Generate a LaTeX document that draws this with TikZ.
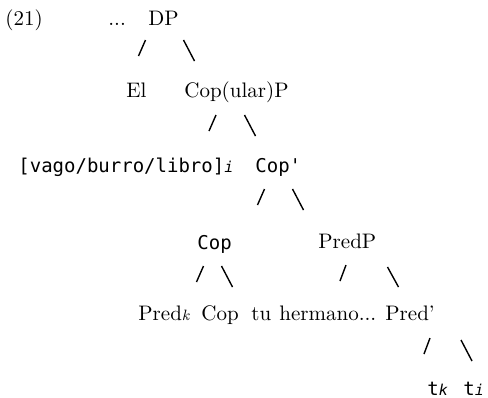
\documentclass[tikz,border=0pt]{standalone}
\usepackage{fontspec}
\setmonofont{DejaVu Sans Mono}
\tikzset{
  lab/.style={inner sep=0pt, anchor=base west, font=\fontsize{10.5}{12.5}\selectfont},
  mono/.style={inner sep=0pt, anchor=base west, font=\fontsize{9.5}{11}\selectfont\ttfamily},
  branch/.style={line width=0.7pt}
}
\newcommand{\ssub}[1]{{\fontsize{7.5}{8}\selectfont\itshape #1}}

\begin{document}
\begin{tikzpicture}[x=0.5pt, y=-0.5pt]
\useasboundingbox (0,0) rectangle (488,397);
% DP
\node[lab] (num) at (5,25) {(21)};
\node[lab] (dots) at (108,25) {...};
\node[lab] (dp) at (148,25) {DP};
\draw[branch] ([shift={(-2.5,15)}]dp.base west) -- ++(-7,16);
\draw[branch] ([shift={(35.5,15)}]dp.base west) -- ++(11,21);
% El, CopP
\node[lab] (el) at (126,97) {El};
\node[lab] (copp) at (184,97) {Cop(ular)P};
\draw[branch] ([shift={(32,18)}]copp.base west) -- ++(-7,16);
\draw[branch] ([shift={(60.5,18)}]copp.base west) -- ++(11,21);
% spec, Cop'
\node[mono] (spec) at (18,172) {[vago/burro/libro]\ssub{i}};
\node[mono] (copbar) at (255,172) {Cop'};
\draw[branch] ([shift={(9.5,17)}]copbar.base west) -- ++(-7,16);
\draw[branch] ([shift={(37.5,17)}]copbar.base west) -- ++(11,21);
% Cop, PredP
\node[mono] (cop) at (197,249) {Cop};
\node[lab] (predp) at (318,248) {PredP};
\draw[branch] ([shift={(28,17)}]predp.base west) -- ++(-6,16);
\draw[branch] ([shift={(69.5,19)}]predp.base west) -- ++(11,20);
\draw[branch] ([shift={(6.5,17)}]cop.base west) -- ++(-7,16);
\draw[branch] ([shift={(24.5,17)}]cop.base west) -- ++(11,21);
% bottom row
\node[lab] (predk) at (138,320) {Pred\ssub{k}};
\node[lab] (copl) at (201,320) {Cop};
\node[lab] (tu) at (251,320) {tu};
\node[lab] (herm) at (279,320) {hermano...};
\node[lab] (predbar) at (385,320) {Pred'};
\draw[branch] ([shift={(45,18)}]predbar.base west) -- ++(-6,16);
\draw[branch] ([shift={(76,20)}]predbar.base west) -- ++(11,21);
% traces
\node[mono] (tk) at (427,395) {t\ssub{k}};
\node[mono] (ti) at (463,395) {t\ssub{i}};
\end{tikzpicture}
\end{document}
